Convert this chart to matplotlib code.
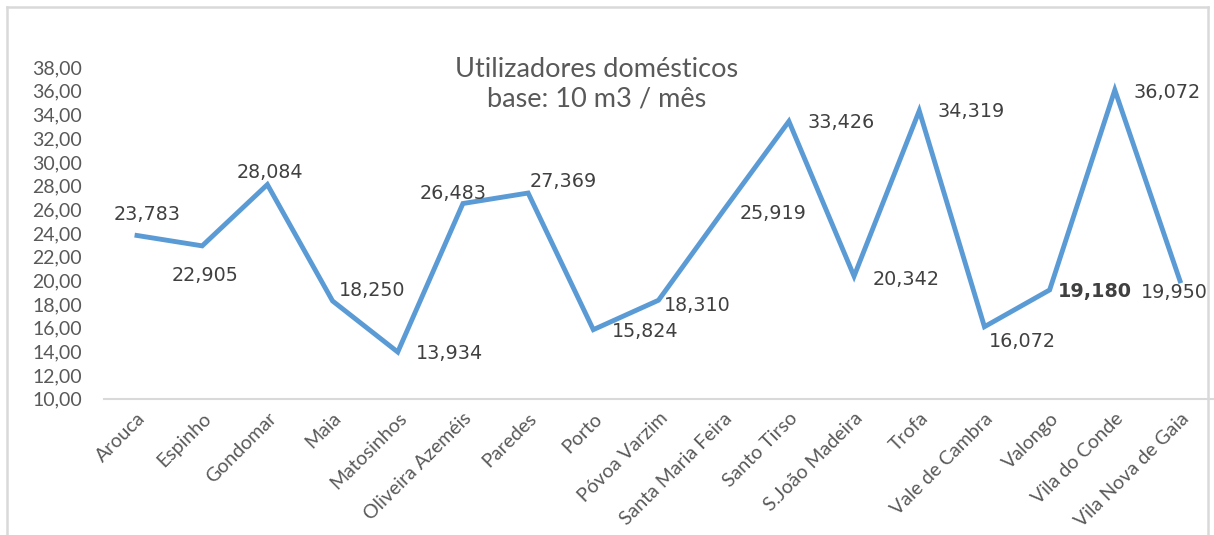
import matplotlib
matplotlib.use('Agg')
import matplotlib.pyplot as plt
from matplotlib.lines import Line2D

# data
concelhos = ["Arouca", "Espinho", "Gondomar", "Maia", "Matosinhos",
             "Oliveira Azeméis", "Paredes", "Porto", "Póvoa Varzim",
             "Santa Maria Feira", "Santo Tirso", "S.João Madeira", "Trofa",
             "Vale de Cambra", "Valongo", "Vila do Conde", "Vila Nova de Gaia"]
valores = [23.783, 22.905, 28.084, 18.250, 13.934, 26.483, 27.369, 15.824,
           18.310, 25.919, 33.426, 20.342, 34.319, 16.072, 19.180, 36.072,
           19.950]
destaque = "Valongo"

# label offsets in pixels (dx, dy), dy positive = up
offsets = [(10, 21), (3, -30), (3, 12), (40, 10), (52, -1), (-10, 10),
           (35, 12), (52, -2), (39, -5), (49, -3), (52, -1), (52, -3),
           (52, -1), (38, -15), (45, -2), (52, -2), (-6, -12)]

BLUE = "#5B9BD5"
GREY = "#595959"
LINE = "#D9D9D9"

fig = plt.figure(figsize=(12.14, 5.35), dpi=100)
ax = fig.add_axes([104.4 / 1214, (535 - 398.6) / 535,
                   (1212.6 - 104.4) / 1214, (398.6 - 67.2) / 535])

x = list(range(len(concelhos)))
ax.plot(x, valores, color=BLUE, linewidth=3.5, solid_joinstyle='miter')

for i, (v, (dx, dy)) in enumerate(zip(valores, offsets)):
    txt = f"{v:.3f}".replace(".", ",")
    ax.annotate(txt, (i, v), xytext=(dx, dy), textcoords='offset pixels',
                ha='center', va='center', fontsize=13.8, color="#404040",
                family='DejaVu Sans',
                fontweight='bold' if concelhos[i] == destaque else 'normal')

ax.set_xlim(-0.5, len(concelhos) - 0.5)
ax.set_ylim(10, 38)
ax.set_yticks(range(10, 39, 2))
ax.set_yticklabels([f"{t},00" for t in range(10, 39, 2)],
                   fontsize=14, color=GREY, family='Lato')
ax.set_xticks(x)
ax.set_xticklabels(concelhos, rotation=45, ha='right', rotation_mode='anchor',
                   fontsize=14, color=GREY, family='Lato')
ax.tick_params(axis='y', length=0, pad=16)
ax.tick_params(axis='x', length=0, pad=8)

for s in ['top', 'right', 'left']:
    ax.spines[s].set_visible(False)
ax.spines['bottom'].set_color(LINE)
ax.spines['bottom'].set_linewidth(1.5)
ax.set_facecolor('none')

fig.text(597 / 1214, 1 - 84 / 535, "Utilizadores domésticos\nbase: 10 m3 / mês",
         ha='center', va='center', fontsize=19.5, color=GREY, family='Lato',
         linespacing=1.2)

# chart border
fig.add_artist(Line2D([7 / 1214, 1208 / 1214], [1 - 7 / 535, 1 - 7 / 535],
                      color=LINE, linewidth=1.8))
fig.add_artist(Line2D([7 / 1214, 7 / 1214], [1 - 7 / 535, 0], color=LINE, linewidth=1.8))
fig.add_artist(Line2D([1208 / 1214, 1208 / 1214], [1 - 7 / 535, 0], color=LINE, linewidth=1.8))

fig.savefig("out.png", dpi=100)
